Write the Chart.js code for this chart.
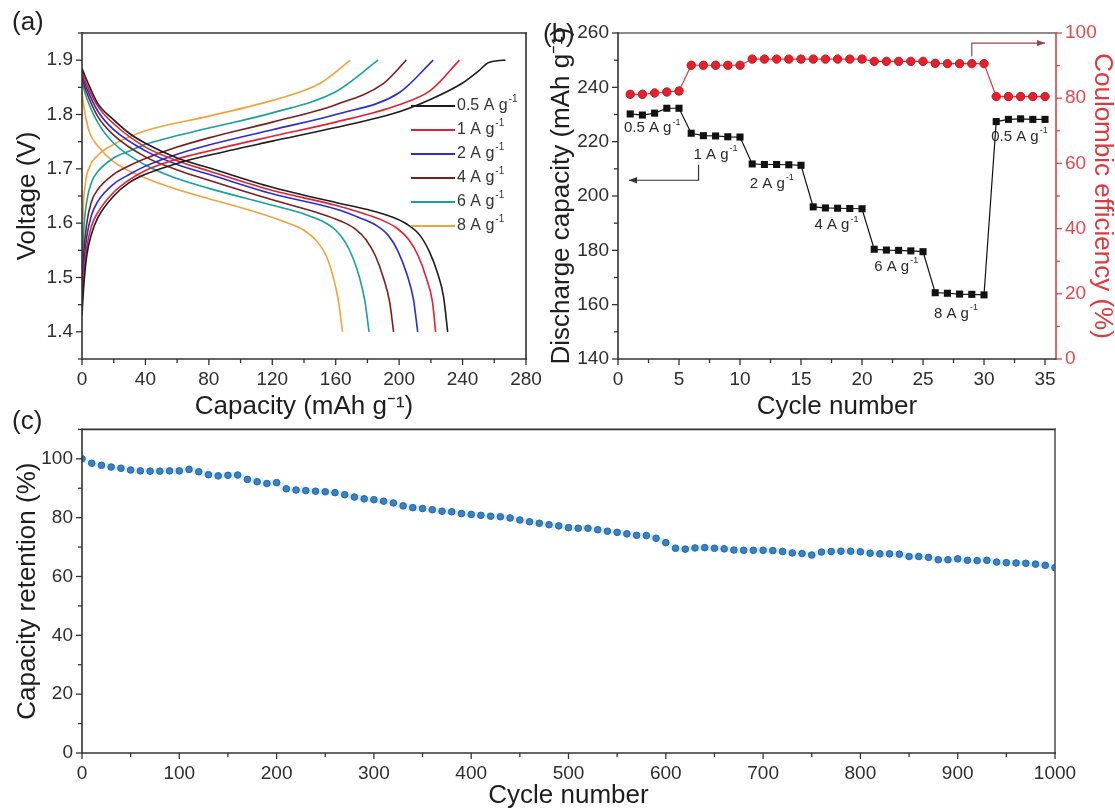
<!DOCTYPE html>
<html><head><meta charset="utf-8">
<script src="https://cdn.jsdelivr.net/npm/chart.js@4.4.1/dist/chart.umd.min.js"></script>
<style>
html,body{margin:0;padding:0;background:#fff;}
#wrap{position:relative;width:1115px;height:809px;overflow:hidden;background:#fff;}
canvas{position:absolute;}
.pl{position:absolute;font-family:'Liberation Sans',Arial,sans-serif;font-size:26px;line-height:26px;color:#222;}
</style></head><body>
<div id="wrap">
<canvas id="cA" width="545" height="420" style="left:0px;top:0px"></canvas>
<canvas id="cB" width="570" height="420" style="left:545px;top:0px"></canvas>
<canvas id="cC" width="1115" height="394" style="left:0px;top:415px"></canvas>
<div class="pl" style="left:12px;top:8px">(a)</div>
<div class="pl" style="left:543px;top:20px">(b)</div>
<div class="pl" style="left:12px;top:407px">(c)</div>
</div>
<script>
// ---------- Panel (a): charge / discharge profiles [capacity, voltage] ----------
const rateNames = ['0.5 A g', '1 A g', '2 A g', '4 A g', '6 A g', '8 A g'];
const charge05 = [[0,1.43],[1,1.48],[3,1.54],[6,1.58],[10,1.61],[20,1.65],[30,1.675],[40,1.69],[60,1.71],[80,1.725],[120,1.751],[160,1.776],[200,1.805],[220,1.828],[240,1.858],[250,1.88],[256,1.895],[262,1.899],[267,1.9]];
const charge1 = [[0,1.45],[1,1.5],[3,1.555],[6,1.595],[10,1.62],[20,1.657],[30,1.68],[40,1.697],[60,1.718],[80,1.733],[120,1.76],[160,1.786],[200,1.818],[220,1.845],[238,1.9]];
const charge2 = [[0,1.46],[1,1.52],[3,1.575],[6,1.615],[10,1.64],[20,1.672],[30,1.69],[40,1.705],[60,1.727],[80,1.744],[120,1.772],[160,1.8],[200,1.84],[221.5,1.9]];
const charge4 = [[0,1.47],[1,1.54],[3,1.6],[6,1.64],[10,1.662],[20,1.69],[30,1.706],[40,1.719],[60,1.74],[80,1.757],[120,1.786],[160,1.818],[190,1.857],[204.5,1.9]];
const charge6 = [[0,1.49],[1,1.58],[3,1.64],[6,1.675],[10,1.695],[20,1.72],[30,1.733],[40,1.745],[80,1.775],[120,1.803],[160,1.842],[186.7,1.9]];
const charge8 = [[0,1.5],[0.5,1.6],[2,1.67],[5,1.705],[10,1.725],[20,1.745],[40,1.77],[80,1.797],[120,1.826],[150,1.857],[169.3,1.9]];
const discharge05 = [[0,1.885],[2,1.87],[5,1.85],[10,1.82],[20,1.79],[30,1.765],[40,1.747],[60,1.72],[80,1.702],[120,1.666],[160,1.638],[180,1.625],[195,1.612],[205,1.598],[213,1.578],[219,1.548],[224,1.51],[228,1.465],[230.6,1.4]];
const discharge1 = [[0,1.878],[3,1.855],[10,1.815],[20,1.783],[40,1.74],[60,1.715],[80,1.696],[120,1.66],[160,1.633],[175,1.62],[188,1.607],[198,1.592],[206,1.57],[212,1.54],[217,1.5],[221,1.455],[223,1.4]];
const discharge2 = [[0,1.872],[3,1.848],[10,1.806],[20,1.772],[40,1.733],[60,1.708],[80,1.69],[120,1.654],[160,1.626],[175,1.61],[185,1.597],[193,1.578],[199,1.55],[205,1.505],[209,1.46],[211.7,1.4]];
const discharge4 = [[0,1.866],[3,1.84],[10,1.796],[20,1.762],[40,1.722],[60,1.698],[80,1.679],[120,1.643],[150,1.618],[163,1.604],[172,1.59],[179,1.57],[185,1.54],[190,1.5],[194,1.455],[196.5,1.4]];
const discharge6 = [[0,1.858],[3,1.83],[10,1.785],[20,1.747],[40,1.707],[60,1.682],[80,1.664],[120,1.633],[140,1.617],[152,1.603],[160,1.587],[166,1.565],[171,1.535],[175,1.5],[178.5,1.455],[181,1.4]];
const discharge8 = [[0,1.84],[2,1.8],[5,1.765],[10,1.742],[20,1.713],[40,1.683],[60,1.662],[80,1.645],[110,1.62],[130,1.6],[140,1.587],[148,1.567],[154,1.54],[158,1.505],[161.5,1.46],[164.3,1.4]];
const capTicks = [0,40,80,120,160,200,240,280];
const capMinor = [20,60,100,140,180,220,260];
const voltTicks = [1.4,1.5,1.6,1.7,1.8,1.9];
const voltMinor = [1.35,1.45,1.55,1.65,1.75,1.85,1.95];

// ---------- Panel (b): rate performance ----------
const cycleNo = [1,2,3,4,5,6,7,8,9,10,11,12,13,14,15,16,17,18,19,20,21,22,23,24,25,26,27,28,29,30,31,32,33,34,35];
const dischargeCap = [230.2,229.8,230.5,232.3,232.3,223.1,222.2,222.1,221.8,221.7,211.8,211.6,211.6,211.5,211.3,196.0,195.6,195.5,195.4,195.3,180.4,180.1,180.0,179.8,179.5,164.4,164.2,163.9,163.8,163.6,227.4,228.2,228.4,228.2,228.2];
const coulombicEff = [81.2,81.2,81.6,81.9,82.2,90.1,90.1,90.1,90.1,90.1,92.0,92.0,92.0,92.0,92.0,92.0,92.0,92.0,92.0,92.0,91.3,91.3,91.3,91.3,91.3,90.7,90.6,90.6,90.6,90.6,80.5,80.5,80.5,80.5,80.5];
const rateLabelText = ['0.5 A g','1 A g','2 A g','4 A g','6 A g','8 A g','0.5 A g'];
const rateLabelCycle = [2.8,8.0,12.6,17.9,22.8,27.7,32.9];
const rateLabelCap = [224.9,215.1,204.6,189.2,173.8,156.6,221.8];
const cycleTicksB = [0,5,10,15,20,25,30,35];
const cycleMinorB = [2.5,7.5,12.5,17.5,22.5,27.5,32.5];
const capTicksB = [140,160,180,200,220,240,260];
const capMinorB = [150,170,190,210,230,250];
const ceTicks = [0,20,40,60,80,100];
const ceMinor = [10,30,50,70,90];
const leftArrowPath = [[6.6,211.5],[6.6,205.8],[0.9,205.8]];   // (cycle, capacity)
const rightArrowPath = [[29,92.8],[29,96.9],[35,96.9]];        // (cycle, CE)

// ---------- Panel (c): long cycling ----------
const cyclesC = [0,10,20,30,40,50,60,70,80,90,100,110,120,130,140,150,160,170,180,190,200,210,220,230,240,250,260,270,280,290,300,310,320,330,340,350,360,370,380,390,400,410,420,430,440,450,460,470,480,490,500,510,520,530,540,550,560,570,580,590,600,610,620,630,640,650,660,670,680,690,700,710,720,730,740,750,760,770,780,790,800,810,820,830,840,850,860,870,880,890,900,910,920,930,940,950,960,970,980,990,1000];
const retention = [100,98.5,97.8,97.2,96.8,96.2,95.9,95.8,95.8,95.9,95.9,96.4,95.6,94.6,94.2,94.4,94.5,93.0,92.2,91.6,91.9,89.8,89.4,89.2,89.0,88.8,88.5,87.8,87.0,86.4,86.1,85.6,85.0,84.0,83.4,83.1,82.7,82.2,82.0,81.4,81.1,80.8,80.5,80.3,79.9,79.2,78.6,78.1,77.6,77.2,76.6,76.4,76.4,75.9,75.4,75.0,74.5,74.0,73.9,73.0,71.5,69.6,69.3,69.7,69.8,69.6,69.4,69.0,68.9,68.9,68.9,68.8,68.5,68.0,67.8,67.3,68.3,68.5,68.6,68.6,68.4,67.9,67.7,67.7,67.6,66.8,66.8,66.5,65.7,65.7,66.0,65.5,65.4,65.5,64.9,64.7,64.6,64.5,64.2,63.8,63.0];
const cycleTicksC = [0,100,200,300,400,500,600,700,800,900,1000];
const cycleMinorC = [50,150,250,350,450,550,650,750,850,950];
const retTicks = [0,20,40,60,80,100];
const retMinor = [10,30,50,70,90,110];

// ---------- styles ----------
const FONT = "'Liberation Sans', Arial, Helvetica, sans-serif";
Chart.defaults.font.family = FONT;
const rateColors = ['#1c1c1c','#e5202e','#2a2ad8','#7b1e1e','#17a0a0','#f4a23c'];
const tickFont = {family: FONT, size: 19};
const titleFont = {family: FONT, size: 26, lineHeight: 1};
const TICK = '#2e2e2e', TITLE = '#1e1e1e', RED = '#e0383e';
const plain = v => String(v);

function drawUnit(ctx, text, x, y, size, align, color) {
  const supSize = Math.round(size * 0.62);
  ctx.font = size + 'px ' + FONT;
  const w1 = ctx.measureText(text).width;
  ctx.font = supSize + 'px ' + FONT;
  const w2 = ctx.measureText('-1').width;
  const sx = align === 'center' ? x - (w1 + w2 + 1) / 2 : x;
  ctx.fillStyle = color; ctx.textBaseline = 'middle'; ctx.textAlign = 'left';
  ctx.font = size + 'px ' + FONT; ctx.fillText(text, sx, y);
  ctx.font = supSize + 'px ' + FONT; ctx.fillText('-1', sx + w1 + 1, y - size * 0.42);
}

const framePlugin = {
  id: 'frame',
  afterDatasetsDraw(chart, args, opts) {
    const {ctx, chartArea: a} = chart;
    ctx.save();
    ctx.lineCap = 'square';
    const c = opts.colors;
    const seg = (col, x1, y1, x2, y2, w) => { ctx.strokeStyle = col; ctx.lineWidth = w; ctx.beginPath(); ctx.moveTo(x1, y1); ctx.lineTo(x2, y2); ctx.stroke(); };
    seg(c.top, a.left, a.top, a.right, a.top, 1.6);
    seg(c.right, a.right, a.top, a.right, a.bottom, 1.6);
    seg(c.bottom, a.left, a.bottom, a.right, a.bottom, 1.6);
    seg(c.left, a.left, a.top, a.left, a.bottom, 1.6);
    ctx.lineCap = 'butt';
    (opts.axes || []).forEach(ax => {
      const s = chart.scales[ax.id];
      const mark = (v, len) => {
        const p = s.getPixelForValue(v);
        if (ax.side === 'bottom') seg(ax.color, p, a.bottom, p, a.bottom + len, 1.3);
        else if (ax.side === 'left') seg(ax.color, a.left, p, a.left - len, p, 1.3);
        else seg(ax.color, a.right, p, a.right + len, p, 1.3);
      };
      s.ticks.forEach(t => mark(t.value, 6));
      (ax.minor || []).forEach(v => mark(v, 4));
    });
    ctx.restore();
  }
};

function linScale(extra) {
  return Object.assign({
    type: 'linear',
    grid: {display: false, drawTicks: true, tickLength: 6},
    border: {display: false},
    ticks: {font: tickFont, color: TICK, padding: 3, maxRotation: 0, autoSkip: false, callback: plain},
  }, extra);
}
const fixTicks = arr => s => { s.ticks = arr.map(v => ({value: v})); };

// ---------- Chart (a) ----------
const chargeSets = [charge05, charge1, charge2, charge4, charge6, charge8];
const dischargeSets = [discharge05, discharge1, discharge2, discharge4, discharge6, discharge8];
const dsA = [];
rateNames.forEach((n, i) => {
  [chargeSets[i], dischargeSets[i]].forEach(set => {
    dsA.push({
      label: n, data: set.map(p => ({x: p[0], y: p[1]})),
      borderColor: rateColors[i], borderWidth: 1.6, pointRadius: 0,
      showLine: true, fill: false, cubicInterpolationMode: 'monotone'
    });
  });
});
const legendA = {
  id: 'legendA',
  afterDatasetsDraw(chart) {
    const {ctx, chartArea: a} = chart;
    ctx.save();
    rateNames.forEach((n, i) => {
      const y = a.top + 73 + i * 24;
      const x0 = a.right - 115, x1 = a.right - 71;
      ctx.strokeStyle = rateColors[i]; ctx.lineWidth = 2;
      ctx.beginPath(); ctx.moveTo(x0, y); ctx.lineTo(x1, y); ctx.stroke();
      drawUnit(ctx, n, x1 + 2, y, 16, 'left', '#333');
    });
    ctx.restore();
  }
};
new Chart(document.getElementById('cA'), {
  type: 'scatter',
  data: {datasets: dsA},
  options: {
    responsive: false, animation: false, events: [],
    layout: {padding: {top: 33, right: 19, left: 0, bottom: 0}},
    scales: {
      x: linScale({min: 0, max: 280, afterBuildTicks: fixTicks(capTicks), afterFit: s => { s.height = 61; },
        title: {display: true, text: 'Capacity (mAh g⁻¹)', font: titleFont, color: TITLE, padding: {top: 0, bottom: 0}}}),
      y: linScale({min: 1.35, max: 1.95, afterBuildTicks: fixTicks(voltTicks), afterFit: s => { s.width = 82; },
        ticks: {font: tickFont, color: TICK, padding: 3, autoSkip: false, callback: v => Number(v).toFixed(1)},
        title: {display: true, text: 'Voltage (V)', font: titleFont, color: TITLE, padding: {top: 15, bottom: 0}}})
    },
    plugins: {
      legend: {display: false}, tooltip: {enabled: false},
      frame: {colors: {top: '#333', right: '#333', bottom: '#333', left: '#333'},
        axes: [{id: 'x', side: 'bottom', color: '#333', minor: capMinor}, {id: 'y', side: 'left', color: '#333', minor: voltMinor}]}
    }
  },
  plugins: [framePlugin, legendA]
});

// ---------- Chart (b) ----------
const annotB = {
  id: 'annotB',
  afterDatasetsDraw(chart) {
    const {ctx} = chart;
    const sx = chart.scales.x, sy = chart.scales.y, sy1 = chart.scales.y1;
    ctx.save();
    rateLabelText.forEach((t, i) => {
      drawUnit(ctx, t, sx.getPixelForValue(rateLabelCycle[i]), sy.getPixelForValue(rateLabelCap[i]), 15, 'center', '#2a2a2a');
    });
    const arrow = (path, yScale, color, dir) => {
      const pts = path.map(p => [sx.getPixelForValue(p[0]), yScale.getPixelForValue(p[1])]);
      ctx.strokeStyle = color; ctx.fillStyle = color; ctx.lineWidth = 1.2;
      ctx.beginPath(); ctx.moveTo(pts[0][0], pts[0][1]);
      pts.slice(1).forEach(p => ctx.lineTo(p[0], p[1]));
      ctx.stroke();
      const [ex, ey] = pts[pts.length - 1];
      ctx.beginPath();
      ctx.moveTo(ex, ey); ctx.lineTo(ex - dir * 8, ey - 3.2); ctx.lineTo(ex - dir * 8, ey + 3.2); ctx.closePath(); ctx.fill();
    };
    arrow(leftArrowPath, sy, '#333', -1);
    arrow(rightArrowPath, sy1, '#9a4646', 1);
    ctx.restore();
  }
};
new Chart(document.getElementById('cB'), {
  type: 'scatter',
  data: {datasets: [
    {label: 'Discharge capacity', data: cycleNo.map((c, i) => ({x: c, y: dischargeCap[i]})), yAxisID: 'y',
      showLine: true, borderColor: '#111', borderWidth: 1.2, pointStyle: 'rect', pointRadius: 5,
      pointBackgroundColor: '#111', pointBorderColor: '#111', pointBorderWidth: 0},
    {label: 'Coulombic efficiency', data: cycleNo.map((c, i) => ({x: c, y: coulombicEff[i]})), yAxisID: 'y1',
      showLine: true, borderColor: '#d83a3a', borderWidth: 1.2, pointStyle: 'circle', pointRadius: 4.2,
      pointBackgroundColor: '#e51f2b', pointBorderColor: '#c41820', pointBorderWidth: 1}
  ]},
  options: {
    responsive: false, animation: false, events: [],
    layout: {padding: {top: 33, right: 0, left: 0, bottom: 0}},
    scales: {
      x: linScale({min: 0, max: 35.9, afterBuildTicks: fixTicks(cycleTicksB), afterFit: s => { s.height = 61; },
        title: {display: true, text: 'Cycle number', font: titleFont, color: TITLE, padding: {top: 0, bottom: 0}}}),
      y: linScale({position: 'left', min: 140, max: 260, afterBuildTicks: fixTicks(capTicksB), afterFit: s => { s.width = 73; },
        title: {display: true, text: 'Discharge capacity (mAh g⁻¹)', font: titleFont, color: TITLE, padding: {top: 4, bottom: 0}}}),
      y1: linScale({position: 'right', min: 0, max: 100, afterBuildTicks: fixTicks(ceTicks), afterFit: s => { s.width = 59; },
        ticks: {font: tickFont, color: '#e6484e', padding: 3, autoSkip: false, callback: plain},
        title: {display: true, text: 'Coulombic efficiency (%)', font: titleFont, color: RED, padding: {top: 0, bottom: 0}}})
    },
    plugins: {
      legend: {display: false}, tooltip: {enabled: false},
      frame: {colors: {top: '#666', right: '#d04848', bottom: '#333', left: '#333'},
        axes: [{id: 'x', side: 'bottom', color: '#333', minor: cycleMinorB},
               {id: 'y', side: 'left', color: '#333', minor: capMinorB},
               {id: 'y1', side: 'right', color: '#d04848', minor: ceMinor}]}
    }
  },
  plugins: [framePlugin, annotB]
});

// ---------- Chart (c) ----------
new Chart(document.getElementById('cC'), {
  type: 'scatter',
  data: {datasets: [
    {label: 'Capacity retention', data: cyclesC.map((c, i) => ({x: c, y: retention[i]})),
      showLine: true, borderColor: 'rgba(140,205,245,0.35)', borderWidth: 6,
      pointRadius: 3.3, pointBackgroundColor: '#3a80c2', pointBorderColor: '#2566a6', pointBorderWidth: 1}
  ]},
  options: {
    responsive: false, animation: false, events: [],
    layout: {padding: {top: 12, right: 60, left: 0, bottom: 0}},
    scales: {
      x: linScale({min: 0, max: 1000, afterBuildTicks: fixTicks(cycleTicksC), afterFit: s => { s.height = 56; },
        title: {display: true, text: 'Cycle number', font: titleFont, color: TITLE, padding: {top: 0, bottom: 0}}}),
      y: linScale({min: 0, max: 110, afterBuildTicks: fixTicks(retTicks), afterFit: s => { s.width = 82; },
        title: {display: true, text: 'Capacity retention (%)', font: titleFont, color: TITLE, padding: {top: 15, bottom: 0}}})
    },
    plugins: {
      legend: {display: false}, tooltip: {enabled: false},
      frame: {colors: {top: '#333', right: '#555', bottom: '#333', left: '#333'},
        axes: [{id: 'x', side: 'bottom', color: '#333', minor: cycleMinorC}, {id: 'y', side: 'left', color: '#333', minor: retMinor}]}
    }
  },
  plugins: [framePlugin]
});
</script>
</body></html>
